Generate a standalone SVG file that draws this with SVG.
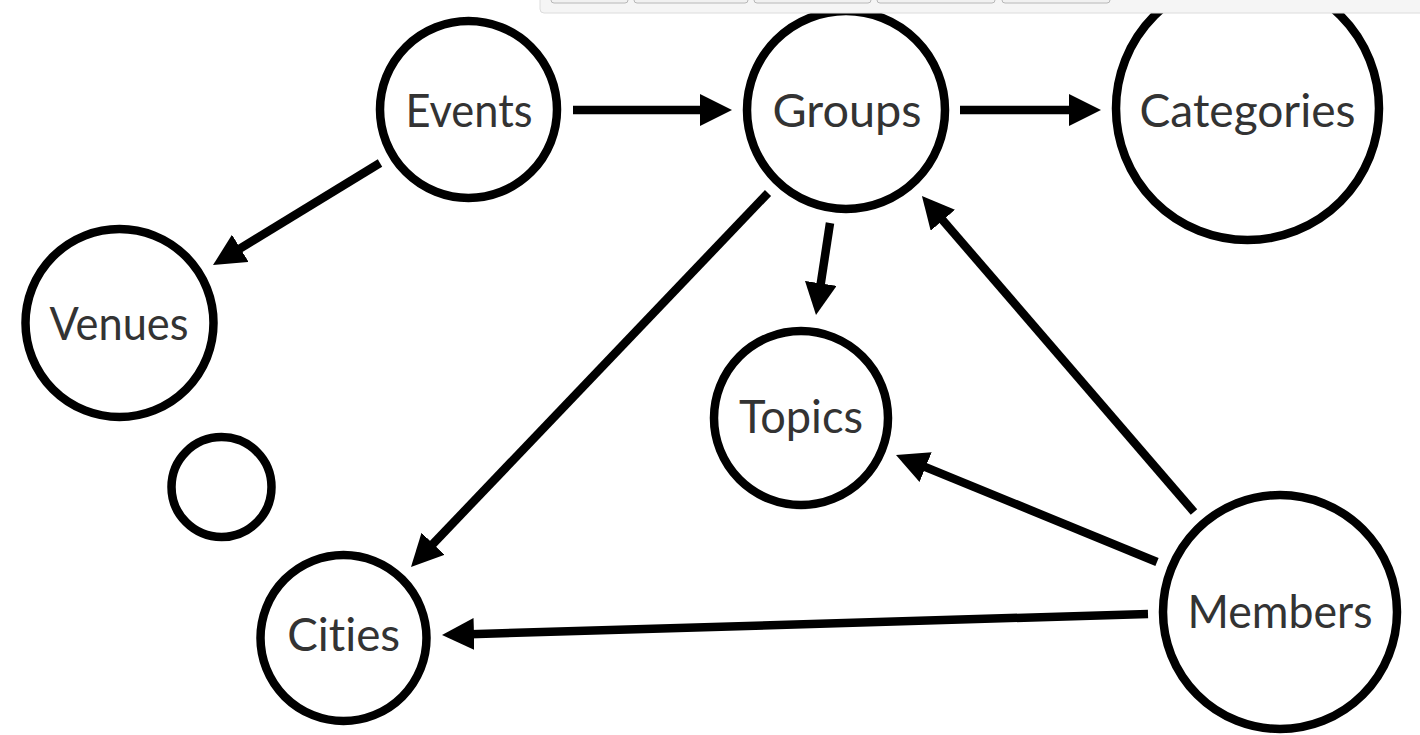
<svg xmlns="http://www.w3.org/2000/svg" width="1420" height="735" viewBox="0 0 1420 735">
<style>
.node circle{fill:#fff;stroke:#000;stroke-width:8.5}
.node text{font-family:Lato,"Open Sans","Liberation Sans",sans-serif;font-size:46px;fill:#333;text-anchor:middle;font-variant-ligatures:none;font-feature-settings:"liga" 0,"clig" 0}
.edge{stroke:#000;stroke-width:8.5;fill:none;marker-end:url(#arrow)}
.btn{fill:#f1f1f1;stroke:#b8b8b8;stroke-width:1}
</style>
<defs>
<marker id="arrow" viewBox="0 0 32 32" markerUnits="userSpaceOnUse" markerWidth="32" markerHeight="32" refX="12" refY="16" orient="auto">
<path d="M0,0 L32,16 L0,32 Z" fill="#000"/>
</marker>
</defs>
<rect width="1420" height="735" fill="#fff"/>
<g id="connectors">
<line class="edge" x1="573" y1="110" x2="712" y2="110"/>
<line class="edge" x1="960" y1="110" x2="1081" y2="110"/>
<line class="edge" x1="380" y1="163" x2="230.1" y2="254.6"/>
<line class="edge" x1="830" y1="223" x2="819" y2="295.2"/>
<line class="edge" x1="768" y1="193" x2="424.8" y2="552.5"/>
<line class="edge" x1="1194" y1="512" x2="935" y2="211.2"/>
<line class="edge" x1="1157" y1="562" x2="914.5" y2="462.6"/>
<line class="edge" x1="1148" y1="614" x2="462" y2="634.4"/>
</g>
<g id="events" class="node"><circle cx="468.5" cy="109.5" r="88.5"/><text x="469" y="127" textLength="127" lengthAdjust="spacingAndGlyphs">Events</text></g>
<g id="groups" class="node"><circle cx="846" cy="110" r="99"/><text x="847" y="127" textLength="149" lengthAdjust="spacingAndGlyphs">Groups</text></g>
<g id="categories" class="node"><circle cx="1247.5" cy="108.5" r="131.5"/><text x="1247.5" y="127" textLength="216" lengthAdjust="spacingAndGlyphs">Categories</text></g>
<g id="venues" class="node"><circle cx="119.5" cy="323" r="94"/><text x="119" y="340" textLength="139" lengthAdjust="spacingAndGlyphs">Venues</text></g>
<g id="unnamed" class="node"><circle cx="221.5" cy="487" r="50"/></g>
<g id="topics" class="node"><circle cx="801" cy="418" r="87"/><text x="801" y="433" textLength="124" lengthAdjust="spacingAndGlyphs">Topics</text></g>
<g id="cities" class="node"><circle cx="343.5" cy="638" r="83"/><text x="343.7" y="651" textLength="113" lengthAdjust="spacingAndGlyphs">Cities</text></g>
<g id="members" class="node"><circle cx="1280" cy="612" r="117"/><text x="1280" y="628" textLength="185" lengthAdjust="spacingAndGlyphs">Members</text></g>
<g id="toolbar">
<rect x="540" y="-10" width="900" height="23" rx="4" fill="#f5f5f5" stroke="#dcdcdc" stroke-width="1"/>
<rect class="btn" x="551" y="-10" width="77" height="13" rx="3"/>
<rect class="btn" x="634" y="-10" width="114" height="13" rx="3"/>
<rect class="btn" x="754" y="-10" width="117" height="13" rx="3"/>
<rect class="btn" x="877" y="-10" width="118" height="13" rx="3"/>
<rect class="btn" x="1002" y="-10" width="108" height="13" rx="3"/>
</g>
</svg>
